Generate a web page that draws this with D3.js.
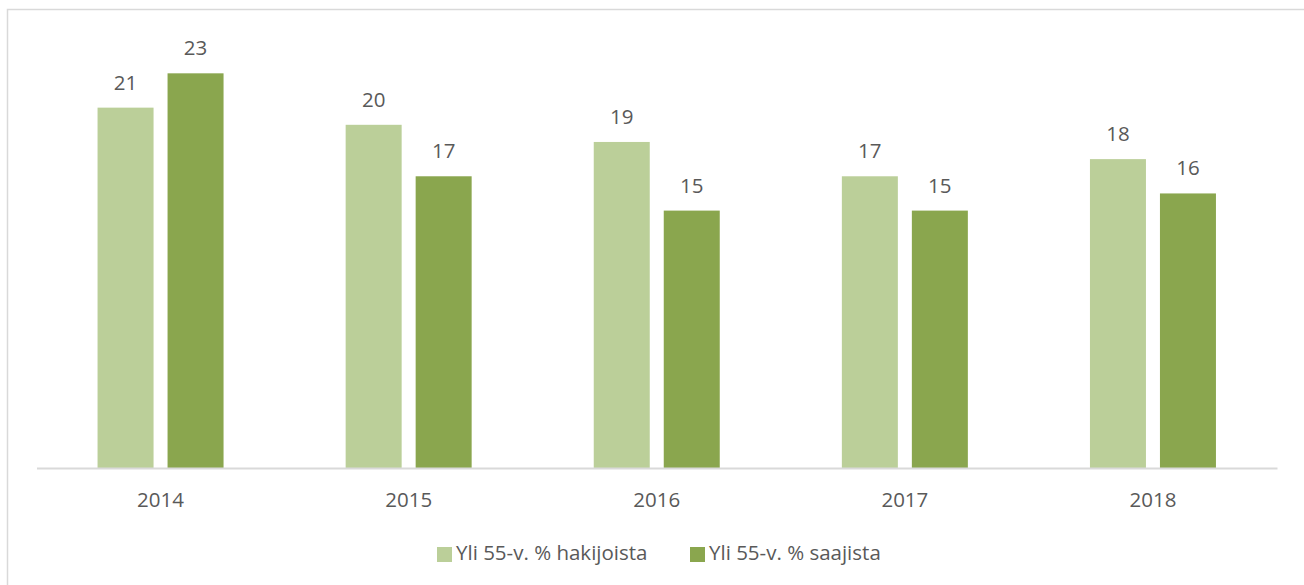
<!DOCTYPE html>
<html>
<head>
<meta charset="utf-8">
<script src="https://cdn.jsdelivr.net/npm/d3@7"></script>
<style>
  html, body { margin: 0; padding: 0; background: #fff; }
  svg { display: block; }
  text { font-family: "Open Sans", "Noto Sans", sans-serif; fill: #595959; }
</style>
</head>
<body>
<svg id="chart" width="1304" height="585"></svg>
<script>
// Share of applicants and recipients aged over 55, by year
const years = ["2014", "2015", "2016", "2017", "2018"];
const seriesNames = ["Yli 55-v. % hakijoista", "Yli 55-v. % saajista"];
const hakijoista = [21, 20, 19, 17, 18];
const saajista = [23, 17, 15, 15, 16];
const seriesColors = ["#bbcf99", "#8aa64e"];

const svg = d3.select("#chart");
const W = 1304, H = 585;
const fontSize = 20.5;

// outer frame of the chart area
svg.append("rect")
  .attr("x", 7.5).attr("y", 9.5)
  .attr("width", W).attr("height", H)
  .attr("fill", "none").attr("stroke", "#d9d9d9").attr("stroke-width", 1.5);

const plot = { left: 36.5, right: 1277, top: 39, bottom: 468 };

const x = d3.scaleBand().domain(years).range([plot.left, plot.right]).paddingInner(0).paddingOuter(0);
const inner = d3.scaleBand().domain([0, 1]).range([x.bandwidth() / 2 - 63, x.bandwidth() / 2 + 63]).paddingInner(0.2);
const y = d3.scaleLinear().domain([0, 25]).range([plot.bottom, plot.top]);

const series = [hakijoista, saajista];

const groups = svg.append("g").selectAll("g")
  .data(years).join("g")
  .attr("transform", d => `translate(${x(d)},0)`);

series.forEach((vals, si) => {
  groups.append("rect")
    .attr("x", inner(si))
    .attr("width", inner.bandwidth())
    .attr("y", (d, i) => y(vals[i]))
    .attr("height", (d, i) => y(0) - y(vals[i]))
    .attr("fill", seriesColors[si]);
  groups.append("text")
    .attr("x", inner(si) + inner.bandwidth() / 2)
    .attr("y", (d, i) => y(vals[i]) - 18)
    .attr("text-anchor", "middle")
    .attr("font-size", fontSize)
    .text((d, i) => vals[i]);
});

// category axis
const xAxis = svg.append("g")
  .attr("transform", `translate(0,${plot.bottom})`)
  .call(d3.axisBottom(x).tickSize(0).tickPadding(24));
xAxis.select(".domain").attr("stroke", "#d9d9d9").attr("stroke-width", 2);
xAxis.selectAll("text").attr("font-size", fontSize).attr("fill", "#595959")
  .attr("font-family", "\"Open Sans\", \"Noto Sans\", sans-serif");

// legend
const legend = svg.append("g");
const legendX = [437, 690];
seriesNames.forEach((name, i) => {
  legend.append("rect")
    .attr("x", legendX[i]).attr("y", 547)
    .attr("width", 15).attr("height", 15)
    .attr("fill", seriesColors[i]);
  legend.append("text")
    .attr("x", legendX[i] + 19).attr("y", 560)
    .attr("font-size", fontSize)
    .text(name);
});
</script>
</body>
</html>
